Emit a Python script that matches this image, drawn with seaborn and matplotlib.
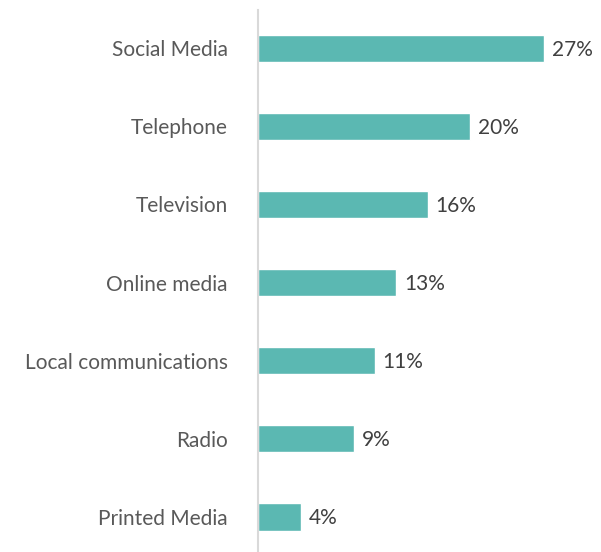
import matplotlib
matplotlib.use("Agg")
import matplotlib.pyplot as plt
import seaborn as sns
import pandas as pd

categories = ["Social Media", "Telephone", "Television", "Online media",
              "Local communications", "Radio", "Printed Media"]
values = [27, 20, 16, 13, 11, 9, 4]
value_labels = ["27%", "20%", "16%", "13%", "11%", "9%", "4%"]

df = pd.DataFrame({"channel": categories, "share": values})

sns.set_theme(style="white")
plt.rcParams["font.family"] = ["Lato", "DejaVu Sans"]

fig = plt.figure(figsize=(6.01, 5.52), dpi=100)
ax = fig.add_axes([0.430, 0.0, 0.570, 0.982])

sns.barplot(data=df, x="share", y="channel", orient="h", color="#5BB8B2",
            saturation=1, width=0.35, ax=ax)

ax.set_xlim(0, 32.4)
ax.set_ylim(6.45, -0.49)
ax.set_xlabel("")
ax.set_ylabel("")
ax.set_xticks([])
ax.tick_params(axis="y", length=0, pad=22, labelsize=15, labelcolor="#595959")

for side in ["top", "right", "bottom"]:
    ax.spines[side].set_visible(False)
ax.spines["left"].set_color("#D9D9D9")
ax.spines["left"].set_linewidth(1.5)

for i, (v, lab) in enumerate(zip(values, value_labels)):
    ax.text(v + 0.75, i + 0.02, lab, va="center", ha="left", fontsize=15,
            color="#404040")

fig.savefig("out.png", dpi=100)
